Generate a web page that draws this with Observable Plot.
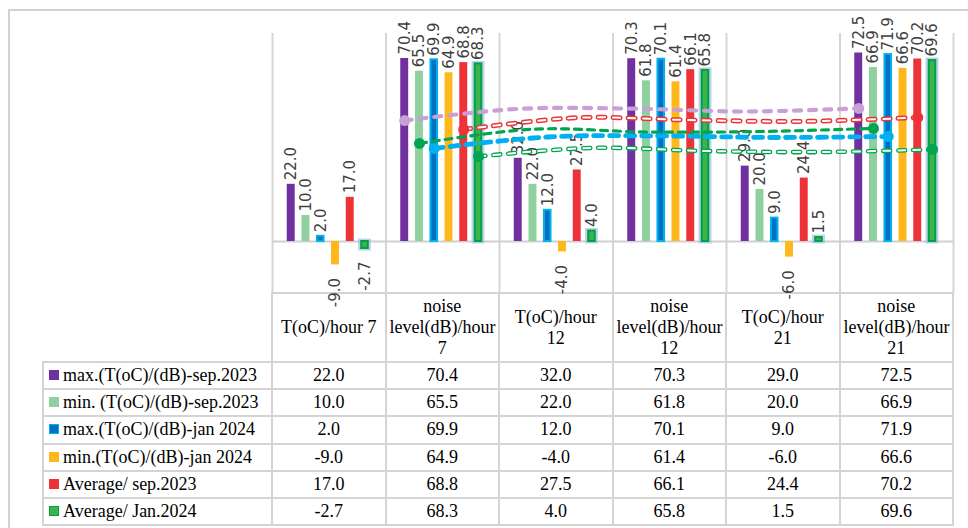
<!DOCTYPE html>
<html>
<head>
<meta charset="utf-8">
<script src="https://cdn.jsdelivr.net/npm/d3@7"></script>
<script src="https://cdn.jsdelivr.net/npm/@observablehq/plot@0.6"></script>
<style>
  html, body { margin: 0; padding: 0; background: #fff; }
  #wrap { position: relative; width: 968px; height: 528px; overflow: hidden; background: #fff; }
  #frame { position: absolute; left: 8px; top: 9px; width: 980px; height: 540px;
           border-left: 2px solid #d2d2d2; border-top: 2px solid #d2d2d2; }
  #chart { position: absolute; left: 0; top: 0; }
  #chart svg { overflow: visible; }
  table { position: absolute; left: 42px; top: 292px; width: 912px; table-layout: fixed;
          border-collapse: collapse; font-family: "Liberation Serif", serif; font-size: 18px; color: #000; }
  td { border: 2px solid #d4d4d4; text-align: center; vertical-align: middle; padding: 0 3px;
       line-height: 21px; white-space: nowrap; }
  tr.hdr { height: 69px; }
  tr.row { height: 27.2px; }
  td.blank { border-top: none; border-left: none; }
  td.leg { text-align: left; padding-left: 5px; }
  .sw { display: inline-block; width: 8px; height: 8px; margin-right: 4px; border: 1px solid; vertical-align: 1px; }
</style>
</head>
<body>
<div id="wrap">
  <div id="frame"></div>
  <div id="tbl"></div>
  <div id="chart"></div>
</div>
<script>
// ---------- data ----------
const headerLines = [
  ["T(oC)/hour 7"],
  ["noise", "level(dB)/hour", "7"],
  ["T(oC)/hour", "12"],
  ["noise", "level(dB)/hour", "12"],
  ["T(oC)/hour", "21"],
  ["noise", "level(dB)/hour", "21"]
];
const categories = headerLines.map(l => l.join(" "));
const series = [
  "max.(T(oC)/(dB)-sep.2023",
  "min. (T(oC)/(dB)-sep.2023",
  "max.(T(oC)/(dB)-jan 2024",
  "min.(T(oC)/(dB)-jan 2024",
  "Average/ sep.2023",
  "Average/ Jan.2024"
];
const maxSep2023 = [22.0, 70.4, 32.0, 70.3, 29.0, 72.5];
const minSep2023 = [10.0, 65.5, 22.0, 61.8, 20.0, 66.9];
const maxJan2024 = [2.0, 69.9, 12.0, 70.1, 9.0, 71.9];
const minJan2024 = [-9.0, 64.9, -4.0, 61.4, -6.0, 66.6];
const avgSep2023 = [17.0, 68.8, 27.5, 66.1, 24.4, 70.2];
const avgJan2024 = [-2.7, 68.3, 4.0, 65.8, 1.5, 69.6];
const seriesValues = [maxSep2023, minSep2023, maxJan2024, minJan2024, avgSep2023, avgJan2024];

// dashed smoothed lines, points at categories 1..5
const trendCats = [1, 2, 3, 4, 5];
const trendLilac = [46.5, 51.0, 51.1, 50.0, 51.2];      // at series 0 position
const trendRed = [43.1, 47.6, 46.7, 46.2, 47.7];        // at series 4 position
const trendGreenDot = [37.7, 43.2, 42.1, 42.3, 43.5];   // at series 1 position
const trendBlue = [35.8, 40.2, 40.6, 40.0, 40.4];       // at series 2 position
const trendGreenRing = [32.7, 36.0, 34.8, 34.4, 35.4];  // at series 5 position

// ---------- styles ----------
const barFill = ["#7030a0", "#8fd19e", "#0070c0", "#ffb81c", "#ee3338", "#3cb44b"];
const barStroke = ["none", "none", "#00b0f0", "none", "none", "#00a04a"];
const legendFill = ["#7030a0", "#8fd19e", "#0070c0", "#ffb81c", "#ee3338", "#3cb44b"];
const legendStroke = ["#7030a0", "#8fd19e", "#00b0f0", "#ffb81c", "#ee3338", "#00a04a"];

const x0 = 0.49, step = 0.13, bw = 0.07;
const cx = (ci, si) => ci + x0 + (si - 2.5) * step;

const marks = [];
marks.push(Plot.ruleX(d3.range(categories.length + 1), {stroke: "#d6d6d6", strokeWidth: 2}));
marks.push(Plot.ruleY([0], {stroke: "#d0d0d0", strokeWidth: 2}));

seriesValues.forEach((vals, si) => {
  const data = vals.map((v, ci) => ({ci, v}));
  if (si === 5) {
    marks.push(Plot.rect(data, {
      x1: d => cx(d.ci, si) - bw / 2, x2: d => cx(d.ci, si) + bw / 2,
      y1: () => 0, y2: "v", fill: "none", stroke: "#9dc3e6", strokeWidth: 5, strokeOpacity: 0.7
    }));
  }
  marks.push(Plot.rect(data, {
    x1: d => cx(d.ci, si) - bw / 2 + (barStroke[si] === "none" ? 0 : 0.006),
    x2: d => cx(d.ci, si) + bw / 2 - (barStroke[si] === "none" ? 0 : 0.006),
    y1: () => 0, y2: "v",
    fill: barFill[si], stroke: barStroke[si], strokeWidth: 2, ariaLabel: "bars"
  }));
});

const labelData = seriesValues.flatMap((vals, si) => vals.map((v, ci) => ({ci, si, v})));
const labelStyle = {fontSize: 15, fontFamily: "DejaVu Sans", fill: "#404040", rotate: -90};
marks.push(Plot.text(labelData.filter(d => d.v >= 0), {
  x: d => cx(d.ci, d.si), y: "v", text: d => d.v.toFixed(1),
  textAnchor: "start", dy: -4, ...labelStyle
}));
marks.push(Plot.text(labelData.filter(d => d.v < 0), {
  x: d => cx(d.ci, d.si), y: "v", text: d => d.v.toFixed(1),
  textAnchor: "end", dy: 13, ...labelStyle
}));

const trends = [
  {vals: trendLilac, si: 0, color: "#c9a0d6", width: 4.2, dash: "7,8", ring: false},
  {vals: trendRed, si: 4, color: "#ee3338", width: 5, dash: "7,8", ring: true},
  {vals: trendGreenDot, si: 1, color: "#00a550", width: 3.2, dash: "7,6", ring: false},
  {vals: trendBlue, si: 2, color: "#00b0f0", width: 4.8, dash: "9,7", ring: false},
  {vals: trendGreenRing, si: 5, color: "#00a550", width: 4.6, dash: "7,8", ring: true}
];
trends.forEach(t => {
  const pts = trendCats.map((c, i) => ({x: cx(c, t.si), y: t.vals[i]}));
  marks.push(Plot.line(pts, {x: "x", y: "y", curve: "catmull-rom", stroke: t.color,
    strokeWidth: t.width, strokeDasharray: t.dash, strokeLinecap: "round"}));
  if (t.ring) {
    marks.push(Plot.line(pts, {x: "x", y: "y", curve: "catmull-rom", stroke: "#fff",
      strokeWidth: 2, strokeDasharray: t.dash, strokeLinecap: "round"}));
  }
  marks.push(Plot.dot([pts[0], pts[pts.length - 1]], {x: "x", y: "y", r: 5.5, fill: t.color, stroke: "none"}));
});

const chart = Plot.plot({
  width: 968, height: 294,
  marginLeft: 272, marginRight: 15, marginTop: 33, marginBottom: 1,
  x: {domain: [0, categories.length], axis: null},
  y: {domain: [-20, 80], axis: null},
  style: {background: "transparent", overflow: "visible"},
  marks
});
d3.select(chart).selectAll('g[aria-label="bars"]')
  .style("filter", "drop-shadow(2px 3px 2px rgba(0,0,0,0.35))");
document.getElementById("chart").appendChild(chart);

// ---------- data table ----------
let html = '<table><colgroup><col style="width:229px">' +
  categories.map(() => '<col style="width:113.5px">').join("") + '</colgroup>';
html += '<tr class="hdr"><td class="blank"></td>' +
  headerLines.map(l => `<td>${l.join("<br>")}</td>`).join("") + '</tr>';
series.forEach((name, si) => {
  html += `<tr class="row"><td class="leg"><span class="sw" style="background:${legendFill[si]};border-color:${legendStroke[si]}"></span>${name}</td>` +
    seriesValues[si].map(v => `<td>${v.toFixed(1)}</td>`).join("") + '</tr>';
});
html += '</table>';
document.getElementById("tbl").innerHTML = html;
</script>
</body>
</html>
